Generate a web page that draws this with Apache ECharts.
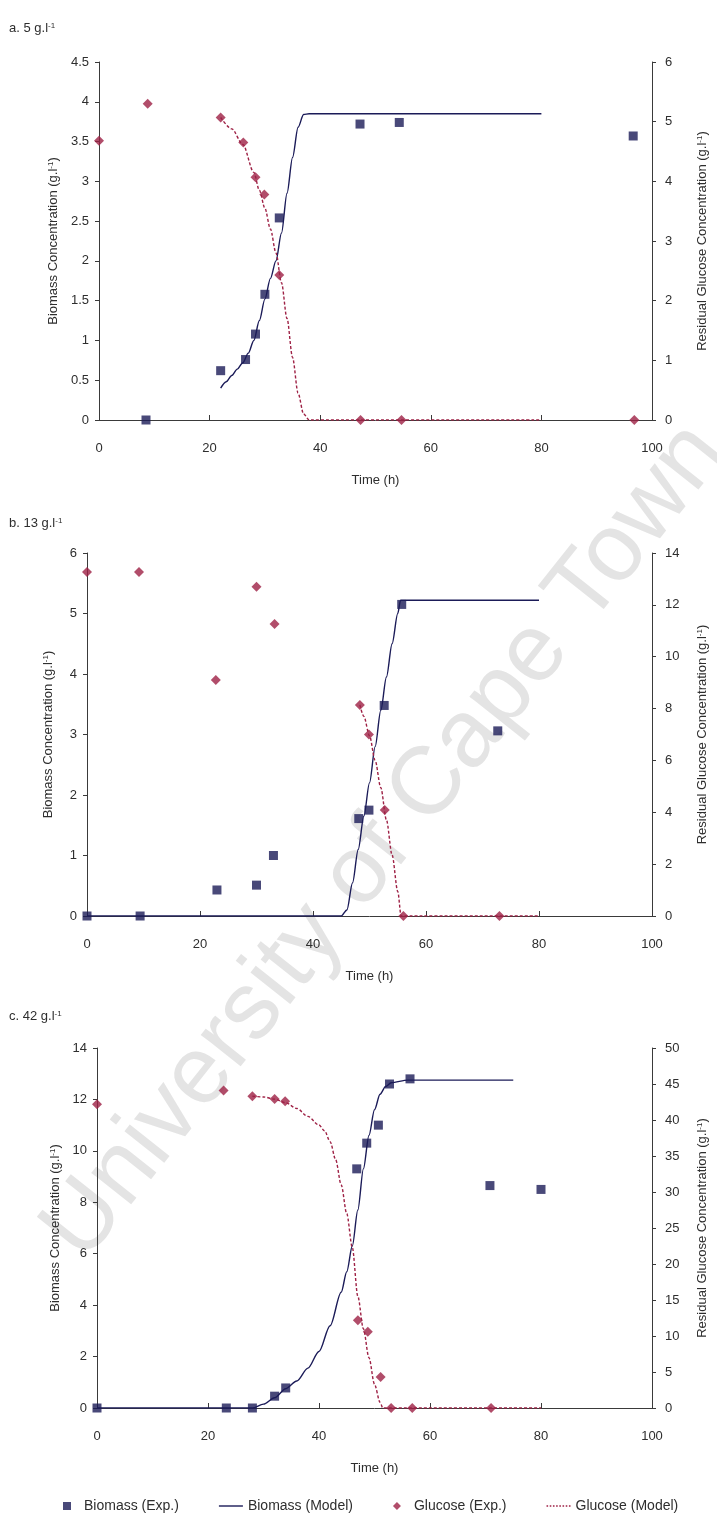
<!DOCTYPE html>
<html>
<head>
<meta charset="utf-8">
<script src="https://cdn.jsdelivr.net/npm/echarts@6/dist/echarts.min.js"></script>
<style>
  html, body { margin: 0; padding: 0; background: #ffffff; }
  #chart { width: 717px; height: 1520px; }
</style>
</head>
<body>
<div id="chart"></div>
<script>
// ---- a. 5 g/l initial glucose: [time (h), value] ----
const aBiomassExp   = [[8.5,0],[22,0.62],[26.5,0.76],[28.3,1.08],[30,1.58],[32.6,2.54],[47.2,3.72],[54.3,3.74],[96.6,3.57]];
const aBiomassModel = [[22,0.4],[23,0.48],[24,0.56],[25,0.64],[26,0.72],[27,0.84],[28,1.0],[29,1.25],[30,1.52],[31,1.78],[32,2.0],[33,2.35],[34,2.85],[35,3.3],[36,3.68],[37,3.84],[38,3.85],[80,3.85]];
const aGlucoseExp   = [[0,4.68],[8.8,5.3],[22,5.07],[26.1,4.65],[28.3,4.07],[29.9,3.78],[32.6,2.43],[47.3,0],[54.7,0],[96.8,0]];
const aGlucoseModel = [[22,5.07],[24,4.88],[26,4.62],[28,4.15],[29,3.85],[30,3.55],[31,3.2],[32,2.8],[33,2.3],[34,1.7],[35,1.05],[36,0.45],[37,0.1],[38,0],[80,0]];

// ---- b. 13 g/l initial glucose ----
const bBiomassExp   = [[0,0],[9.4,0],[23,0.43],[30,0.51],[33,1.0],[48.1,1.61],[49.9,1.75],[52.6,3.48],[55.7,5.15],[72.7,3.06]];
const bBiomassModel = [[0,0],[45,0],[46,0.1],[47,0.55],[48,1.1],[49,1.65],[50,2.2],[51,2.8],[52,3.4],[53,3.95],[54,4.5],[55,5.0],[55.5,5.22],[80,5.22]];
const bGlucoseExp   = [[0,13.27],[9.2,13.27],[22.8,9.1],[30,12.7],[33.2,11.26],[48.3,8.14],[49.9,7.0],[52.7,4.09],[56,0],[73,0]];
const bGlucoseModel = [[48.3,8.14],[49,7.7],[50,6.95],[51,6.0],[52,4.95],[53,3.7],[54,2.35],[55,0.95],[55.6,0],[80,0]];

// ---- c. 42 g/l initial glucose ----
const cBiomassExp   = [[0,0],[23.3,0],[28,0],[32,0.46],[34,0.78],[46.8,9.3],[48.6,10.3],[50.7,11.0],[52.7,12.6],[56.4,12.8],[70.8,8.65],[80,8.5]];
const cBiomassModel = [[0,0],[28,0],[30,0.15],[32,0.4],[34,0.75],[36,1.05],[38,1.55],[40,2.2],[42,3.2],[44,4.5],[45,5.3],[46,6.3],[47,7.7],[48,9.3],[49,10.6],[50,11.6],[51,12.2],[52,12.5],[53,12.65],[56,12.75],[75,12.75]];
const cGlucoseExp   = [[0,42.2],[22.8,44.1],[28,43.3],[32,42.9],[33.9,42.6],[47,12.2],[48.8,10.6],[51.1,4.3],[53,0],[56.8,0],[71,0]];
const cGlucoseModel = [[28,43.3],[30,43.2],[32,42.9],[34,42.4],[36,41.6],[38,40.5],[40,39.3],[41,38.5],[42,37],[43,34.5],[44,31],[45,27],[46,22.3],[47,15.5],[48,11],[49,7],[50,3.3],[51,0.8],[51.5,0],[80,0]];

// Panel labels and axis ranges [min, max, interval]
const panelTitles = ['a. 5 g.l', 'b. 13 g.l', 'c. 42 g.l'];
const timeRange   = [0, 100, 20];
const biomassRanges = [[0, 4.5, 0.5], [0, 6, 1], [0, 14, 2]];
const glucoseRanges = [[0, 6, 1], [0, 14, 2], [0, 50, 5]];
const seriesNames = ['Biomass (Exp.)', 'Biomass (Model)', 'Glucose (Exp.)', 'Glucose (Model)'];

const panelData = [
  [aBiomassExp, aBiomassModel, aGlucoseExp, aGlucoseModel],
  [bBiomassExp, bBiomassModel, bGlucoseExp, bGlucoseModel],
  [cBiomassExp, cBiomassModel, cGlucoseExp, cGlucoseModel]
];

// Plot-area placement of each panel
const grids = [
  { left: 99, top: 62,   width: 559, height: 358 },
  { left: 87, top: 553,  width: 567, height: 363 },
  { left: 97, top: 1048, width: 558, height: 360 }
];
const titleTops = [17, 512, 1005];
const leftNameGaps = [34, 32, 34];

const FONT = "'Liberation Sans', Arial, sans-serif";
const NAVY = '#1b1b58';
const CRIMSON = '#9e2145';
const AXIS = '#3a3a3a';
const TEXT = '#2e2e2e';

// Legend glyphs: square, solid stroke, diamond, row of dots
const ICON_SQUARE  = 'path://M0,0H10V10H0Z';
const ICON_SOLID   = 'path://M0,0H24V1.4H0Z';
const ICON_DIAMOND = 'path://M5,0L10,5L5,10L0,5Z';
const ICON_DOTTED  = 'path://M0,0h1.6v1.4h-1.6Z M3.2,0h1.6v1.4h-1.6Z M6.4,0h1.6v1.4h-1.6Z M9.6,0h1.6v1.4h-1.6Z M12.8,0h1.6v1.4h-1.6Z M16,0h1.6v1.4h-1.6Z M19.2,0h1.6v1.4h-1.6Z M22.4,0h1.6v1.4h-1.6Z';

const supRich = {
  s: { fontSize: 8, fontFamily: FONT, color: TEXT, verticalAlign: 'top', lineHeight: 9 }
};

const xAxes = [], yAxes = [], series = [], titles = [];

grids.forEach((g, i) => {
  titles.push({
    text: panelTitles[i] + '{s|-1}',
    left: 4, top: titleTops[i],
    textStyle: { fontSize: 13, fontWeight: 'normal', color: TEXT, fontFamily: FONT, rich: supRich }
  });

  xAxes.push({
    gridIndex: i, type: 'value',
    min: timeRange[0], max: timeRange[1], interval: timeRange[2],
    name: 'Time (h)', nameLocation: 'middle', nameGap: 54,
    nameTextStyle: { fontSize: 13, color: TEXT, fontFamily: FONT },
    axisLine: { show: true, onZero: false, lineStyle: { color: AXIS, width: 1 } },
    axisTick: { show: true, inside: true, length: 5, lineStyle: { color: AXIS } },
    axisLabel: { fontSize: 13, color: TEXT, fontFamily: FONT, margin: 22 },
    splitLine: { show: false }
  });

  const br = biomassRanges[i], gr = glucoseRanges[i];
  yAxes.push({
    gridIndex: i, type: 'value', position: 'left',
    min: br[0], max: br[1], interval: br[2],
    name: 'Biomass Concentration (g.l{s|-1})',
    nameLocation: 'middle', nameRotate: 90, nameGap: leftNameGaps[i],
    nameTextStyle: { fontSize: 13, color: TEXT, fontFamily: FONT, rich: supRich },
    axisLine: { show: true, lineStyle: { color: AXIS, width: 1 } },
    axisTick: { show: true, inside: false, length: 4, lineStyle: { color: AXIS } },
    axisLabel: { fontSize: 13, color: TEXT, fontFamily: FONT, margin: 10 },
    splitLine: { show: false }
  });
  yAxes.push({
    gridIndex: i, type: 'value', position: 'right',
    min: gr[0], max: gr[1], interval: gr[2],
    name: 'Residual Glucose Concentration (g.l{s|-1})',
    nameLocation: 'middle', nameRotate: 90, nameGap: 44,
    nameTextStyle: { fontSize: 13, color: TEXT, fontFamily: FONT, rich: supRich },
    axisLine: { show: true, lineStyle: { color: AXIS, width: 1 } },
    axisTick: { show: true, inside: false, length: 4, lineStyle: { color: AXIS } },
    axisLabel: { fontSize: 13, color: TEXT, fontFamily: FONT, margin: 13 },
    splitLine: { show: false }
  });

  const [bExp, bMod, gExp, gMod] = panelData[i];
  series.push({
    name: seriesNames[1], type: 'line', xAxisIndex: i, yAxisIndex: 2 * i,
    data: bMod, symbol: 'none', smooth: 0.3, smoothMonotone: 'x',
    itemStyle: { color: NAVY }, lineStyle: { color: NAVY, width: 1.4 }, z: 2
  });
  series.push({
    name: seriesNames[3], type: 'line', xAxisIndex: i, yAxisIndex: 2 * i + 1,
    data: gMod, symbol: 'none', smooth: 0.3, smoothMonotone: 'x',
    itemStyle: { color: CRIMSON }, lineStyle: { color: CRIMSON, width: 1.4, type: [3, 2] }, z: 2
  });
  series.push({
    name: seriesNames[0], type: 'scatter', xAxisIndex: i, yAxisIndex: 2 * i,
    data: bExp, symbol: 'rect', symbolSize: 9,
    itemStyle: { color: NAVY }, z: 4
  });
  series.push({
    name: seriesNames[2], type: 'scatter', xAxisIndex: i, yAxisIndex: 2 * i + 1,
    data: gExp, symbol: 'diamond', symbolSize: 10,
    itemStyle: { color: CRIMSON }, z: 4
  });
});

const chart = echarts.init(document.getElementById('chart'), null, { renderer: 'canvas' });
chart.setOption({
  backgroundColor: '#ffffff',
  animation: false,
  textStyle: { fontFamily: FONT },
  title: titles,
  grid: grids,
  xAxis: xAxes,
  yAxis: yAxes,
  legend: {
    top: 1494, left: 58,
    itemWidth: 24, itemHeight: 8, itemGap: 40, symbolKeepAspect: true,
    textStyle: { fontSize: 14, color: TEXT, fontFamily: FONT },
    data: [
      { name: seriesNames[0], icon: ICON_SQUARE },
      { name: seriesNames[1], icon: ICON_SOLID },
      { name: seriesNames[2], icon: ICON_DIAMOND },
      { name: seriesNames[3], icon: ICON_DOTTED }
    ]
  },
  graphic: [{
    type: 'text', x: 385, y: 842, rotation: 0.9, z: -10, silent: true,
    style: {
      text: 'University of Cape Town',
      font: "96px 'Liberation Sans', Arial, sans-serif",
      fill: '#e4e4e4', align: 'center', verticalAlign: 'middle'
    }
  }],
  series: series
});
</script>
</body>
</html>
